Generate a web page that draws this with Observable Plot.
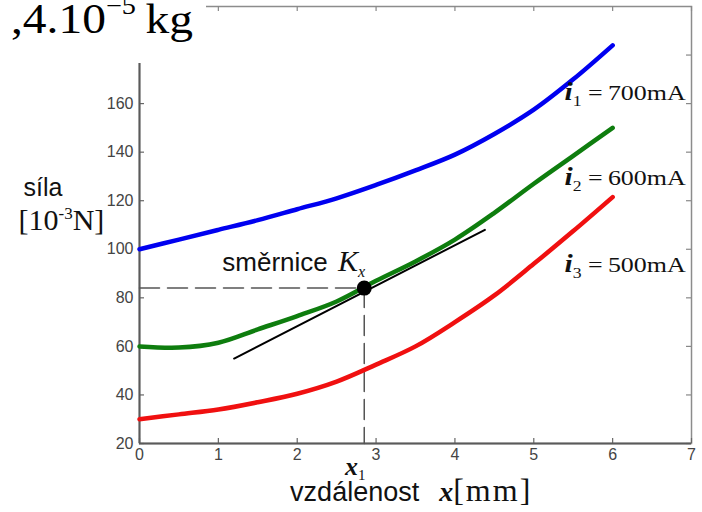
<!DOCTYPE html>
<html><head><meta charset="utf-8">
<script src="https://cdn.jsdelivr.net/npm/d3@7"></script>
<script src="https://cdn.jsdelivr.net/npm/@observablehq/plot@0.6"></script>
<style>
html,body{margin:0;padding:0;background:#fff;}
#wrap{position:relative;width:702px;height:512px;overflow:hidden;}
#wrap svg{position:absolute;left:0;top:0;}
#mass{position:absolute;left:0;top:0;width:206px;height:63px;background:#fff;overflow:hidden;
  font-family:"Liberation Serif","Times New Roman",serif;font-size:42px;line-height:42px;color:#000;}
#mass .inner{position:absolute;left:11px;top:-2px;white-space:nowrap;transform:scaleX(1.13);transform-origin:0 0;}
#mass .sup{font-size:25px;position:relative;top:-19px;}
</style></head><body>
<div id="wrap"><div id="mass"><span class="inner">,4.10<span class="sup">−5</span>&#8201;kg</span></div></div>
<script>
// ---- data ----
const xVals    = [0, 0.5, 1, 1.5, 2, 2.5, 3, 3.5, 4, 4.5, 5, 5.5, 6];
const force700 = [100, 104, 108, 112, 116.5, 121, 126.5, 132.5, 139, 147.5, 157.5, 170, 184];
const force600 = [60, 59.5, 61.5, 67, 72.5, 78.5, 87, 95, 104, 115, 127, 138.5, 150];
const force500 = [30, 32, 34, 37, 40.5, 45.5, 52.5, 60, 70, 81, 94, 107.5, 121.5];
const currents = [700, 600, 500];
const currentIndex = [1, 2, 3];
const tangentX = [1.2, 4.38];
const tangentY = [55, 108];
const pointX = [2.85];
const pointY = [84];
const xTicks = [0, 1, 2, 3, 4, 5, 6, 7];
const yTicks = [20, 40, 60, 80, 100, 120, 140, 160, 180];

// ---- layout ----
const W = 702, H = 512, mL = 139, mR = 11, mT = 6, mB = 69;
const plotW = W - mL - mR, plotH = H - mT - mB;
const serif = "'Liberation Serif','Times New Roman',serif";
const sans = "'Liberation Sans',Arial,Helvetica,sans-serif";

const series = ys => xVals.map((x, i) => ({x, y: ys[i]}));
const tangent = tangentX.map((x, i) => ({x, y: tangentY[i]}));
const guide = [{x: 0, y: pointY[0]}, {x: pointX[0], y: pointY[0]}, {x: pointX[0], y: 20}];
const point = pointX.map((x, i) => ({x, y: pointY[i]}));

const chart = Plot.plot({
  width: W, height: H, marginLeft: mL, marginRight: mR, marginTop: mT, marginBottom: mB,
  x: {domain: [0, 7], axis: null},
  y: {domain: [20, 200], axis: null},
  style: {background: "transparent", overflow: "visible"},
  marks: [
    Plot.frame({stroke: "#8c8c8c", strokeWidth: 1.5}),
    Plot.tickX(xTicks, {x: d => d, insetTop: plotH - 5, stroke: "#666", strokeWidth: 1.2}),
    Plot.tickX(xTicks, {x: d => d, insetBottom: plotH - 5, stroke: "#888", strokeWidth: 1.2}),
    Plot.tickY(yTicks, {y: d => d, insetRight: plotW - 5, stroke: "#666", strokeWidth: 1.2}),
    Plot.tickY(yTicks, {y: d => d, insetLeft: plotW - 5, stroke: "#888", strokeWidth: 1.2}),
    Plot.ruleX([0], {stroke: "#5a5a5a", strokeWidth: 2}),
    Plot.ruleY([20], {stroke: "#5a5a5a", strokeWidth: 2}),
    Plot.text(xTicks, {x: d => d, frameAnchor: "bottom", lineAnchor: "top", dy: 5, text: d => String(d),
      fontFamily: sans, fontSize: 16, fill: "#444"}),
    Plot.text(yTicks, {y: d => d, frameAnchor: "left", textAnchor: "end", dx: -6, text: d => String(d),
      fontFamily: sans, fontSize: 16, fill: "#444"}),
    Plot.line(guide, {x: "x", y: "y", stroke: "#555", strokeWidth: 1.5, strokeDasharray: "20,8"}),
    Plot.line(series(force700), {x: "x", y: "y", stroke: "#0000f0", strokeWidth: 4.5, curve: "catmull-rom"}),
    Plot.line(series(force600), {x: "x", y: "y", stroke: "#0e7d0e", strokeWidth: 4.5, curve: "catmull-rom"}),
    Plot.line(series(force500), {x: "x", y: "y", stroke: "#f01010", strokeWidth: 4.5, curve: "catmull-rom"}),
    Plot.line(tangent, {x: "x", y: "y", stroke: "#000", strokeWidth: 2}),
    Plot.dot(point, {x: "x", y: "y", r: 7.5, fill: "#000", stroke: "none"}),
    // curve labels
    Plot.text(currents, {x: () => 5.39, y: (d, i) => [161.5, 126.5, 90.5][i], text: d => "mA" + d,
      textAnchor: "start", lineAnchor: "bottom", fontFamily: serif, fontSize: 22, fill: "#111"}),
    // slope annotation
    Plot.text(["směrnice"], {x: () => 1.05, y: () => 91.2, text: d => d, textAnchor: "start", lineAnchor: "bottom",
      fontFamily: sans, fontSize: 26, fill: "#111"}),
    // x1 label
    Plot.text(["x1"], {x: () => pointX[0], frameAnchor: "bottom", dy: 31, dx: -9, text: d => d, textAnchor: "middle",
      lineAnchor: "bottom", fontFamily: serif, fontSize: 26, fill: "#111"}),
    // x axis title
    Plot.text(["vzdálenost"], {x: () => 1.91, frameAnchor: "bottom", dy: 57, text: d => d, textAnchor: "start",
      lineAnchor: "bottom", fontFamily: sans, fontSize: 27, fill: "#111"}),
    // y axis title
    Plot.text(["síla"], {y: () => 122, frameAnchor: "left", dx: -116, text: d => d, textAnchor: "start",
      lineAnchor: "bottom", fontFamily: sans, fontSize: 25, fill: "#111"}),
    Plot.text(["[10"], {y: () => 108, frameAnchor: "left", dx: -121, text: d => d, textAnchor: "start",
      lineAnchor: "bottom", fontFamily: serif, fontSize: 30, fill: "#111"})
  ]
});

document.getElementById("wrap").prepend(chart);

// ---- rich text (subscripts, superscripts, mixed fonts) ----
const root = d3.select(chart);
function stretch(t, s) {
  const tr = t.attr("transform");
  if (tr) t.attr("transform", tr + ` scale(${s},1)`);
}
root.selectAll("text").each(function() {
  const t = d3.select(this);
  const s = this.textContent;
  const ci = currents.map(c => "mA" + c).indexOf(s);
  if (ci >= 0) {
    t.text(null);
    t.append("tspan").attr("font-style", "italic").attr("font-weight", "bold").attr("font-size", 25).text("i");
    t.append("tspan").attr("font-size", 15).attr("dy", 6).text(String(currentIndex[ci]));
    t.append("tspan").attr("dy", -6).text(" =\u2009" + currents[ci] + "mA");
    stretch(t, 1.18);
  } else if (s === "směrnice") {
    t.text(null);
    t.append("tspan").text("směrnice ");
    t.append("tspan").attr("dx", 3).attr("font-family", serif).attr("font-style", "italic").attr("font-size", 30).text("K");
    t.append("tspan").attr("font-family", serif).attr("font-style", "italic").attr("font-size", 16).attr("dy", 6).text("x");
  } else if (s === "x1") {
    t.text(null);
    t.append("tspan").attr("font-style", "italic").attr("font-weight", "bold").text("x");
    t.append("tspan").attr("font-size", 15).attr("dy", 5).text("1");
  } else if (s === "vzdálenost") {
    t.text(null);
    t.append("tspan").text("vzdálenost");
    t.append("tspan").attr("dx", 20).attr("font-family", serif).attr("font-style", "italic").attr("font-weight", "bold").attr("font-size", 28).text("x");
    t.append("tspan").attr("font-family", serif).attr("font-size", 32).attr("letter-spacing", 2).text("[mm]");
  } else if (s === "[10") {
    t.text(null);
    t.append("tspan").text("[10");
    t.append("tspan").attr("font-size", 17).attr("dy", -11).text("-3");
    t.append("tspan").attr("dy", 11).text("N]");
  }
});
</script>
</body></html>
